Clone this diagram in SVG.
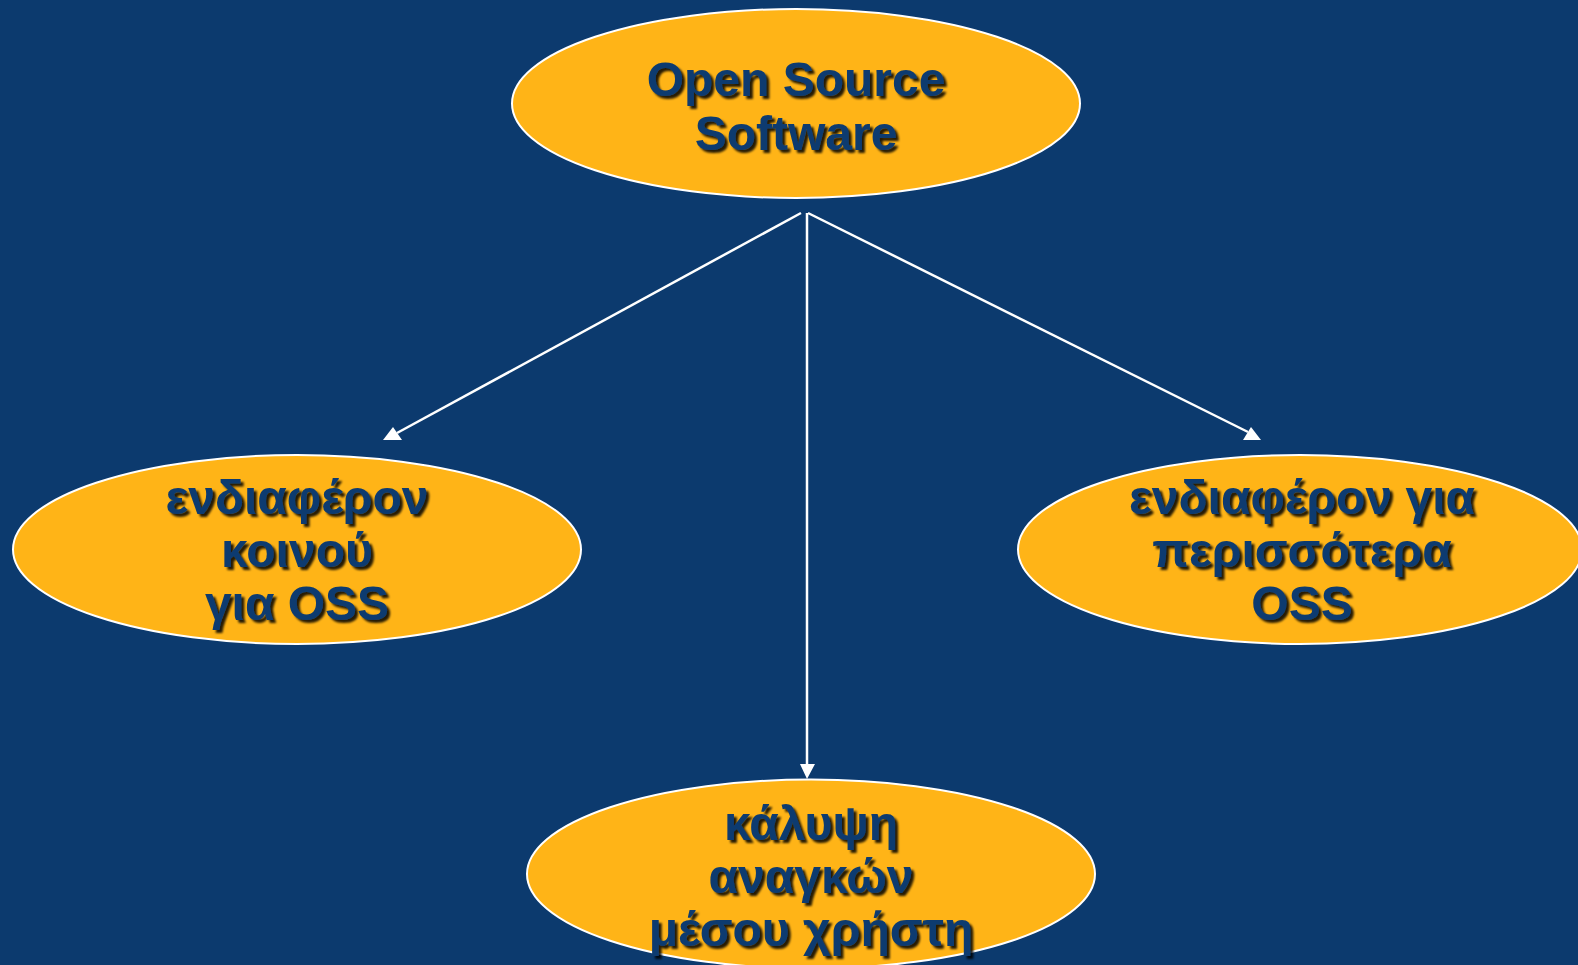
<svg xmlns="http://www.w3.org/2000/svg" width="1578" height="965" viewBox="0 0 1578 965">
<defs>
<filter id="sh" x="-10%" y="-20%" width="120%" height="140%">
<feDropShadow dx="3" dy="3" stdDeviation="1.2" flood-color="#000" flood-opacity="0.85"/>
</filter>
</defs>
<style>
.node ellipse{fill:#FFB417;stroke:#ffffff;stroke-width:2}
.node text{font-family:"Liberation Sans",Arial,sans-serif;font-weight:bold;font-size:48px;fill:#0D3B6F;text-anchor:middle;filter:url(#sh)}
.conn line{stroke:#ffffff;stroke-width:2.5}
.conn polygon{fill:#ffffff}
</style>
<rect width="1578" height="965" fill="#0C3A6E"/>
<g id="connectors" class="conn">
<line x1="801" y1="213" x2="397" y2="433"/>
<polygon points="383,440 402,440 393,427"/>
<line x1="807" y1="213" x2="807" y2="766"/>
<polygon points="800,764 815,764 807,779"/>
<line x1="808" y1="213" x2="1248" y2="432"/>
<polygon points="1243,440 1261,440 1251,427"/>
</g>
<g id="node-oss" class="node">
<ellipse cx="796" cy="103.5" rx="284" ry="94.5"/>
<text x="796" y="96">Open Source</text>
<text x="796" y="150">Software</text>
</g>
<g id="node-community" class="node">
<ellipse cx="297" cy="549.5" rx="284" ry="94.5"/>
<text x="297" y="514">ενδιαφέρον</text>
<text x="297" y="567">κοινού</text>
<text x="297" y="620">για OSS</text>
</g>
<g id="node-more" class="node">
<ellipse cx="1300" cy="549.5" rx="282" ry="94.5"/>
<text x="1302" y="514">ενδιαφέρον για</text>
<text x="1302" y="567">περισσότερα</text>
<text x="1302" y="620">OSS</text>
</g>
<g id="node-user" class="node">
<ellipse cx="811" cy="874" rx="284" ry="94.5"/>
<text x="811" y="840">κάλυψη</text>
<text x="811" y="893">αναγκών</text>
<text x="811" y="946">μέσου χρήστη</text>
</g>
</svg>
